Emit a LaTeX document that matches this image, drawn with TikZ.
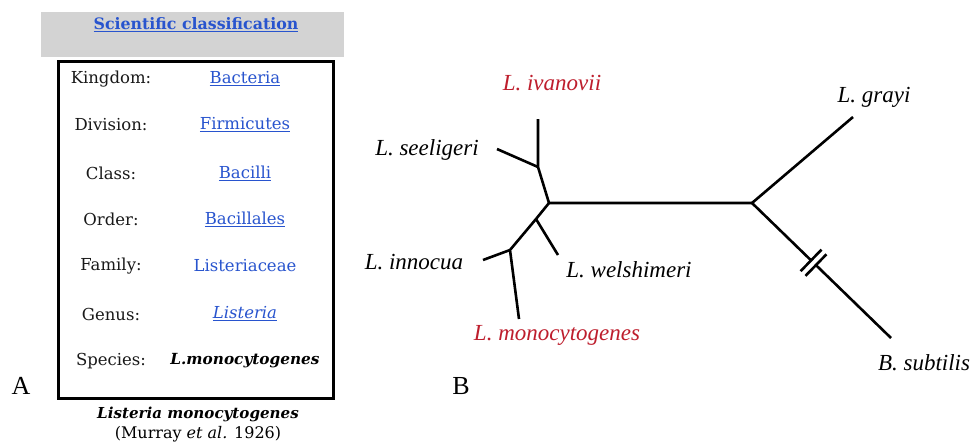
\documentclass[tikz,border=0pt]{standalone}
\usepackage{fontspec}
\setmainfont{Liberation Serif}
\newfontfamily\tabfont{DejaVu Serif}
\usetikzlibrary{calc}
\definecolor{linkblue}{RGB}{40,84,206}
\definecolor{taxred}{RGB}{190,30,45}
\definecolor{headgray}{RGB}{211,211,211}
\tikzset{
  rowlabel/.style={font=\tabfont\fontsize{16.5}{19}\selectfont, text=black!90, inner sep=0pt},
  rowvalue/.style={font=\tabfont\fontsize{16.5}{19}\selectfont, text=linkblue, inner sep=0pt},
  taxon/.style={font=\fontsize{23}{27}\selectfont\itshape, inner sep=0pt},
  panel/.style={font=\fontsize{26}{30}\selectfont, inner sep=0pt},
  branch/.style={line width=2.6pt, line cap=butt, line join=miter},
}
\begin{document}
\begin{tikzpicture}[x=1pt,y=-1pt]
  \clip (0,0) rectangle (974,445);
  \fill[white] (0,0) rectangle (974,445);

  % ---- Panel A: classification table ----
  \fill[headgray] (41,12) rectangle (344,57);
  \node[font=\tabfont\bfseries\fontsize{15.8}{18}\selectfont, text=linkblue, inner sep=0pt]
    (head) at (196,25) {\underline{Scientific classification}};
  \draw[line width=3pt] (58,61) rectangle (333,398);

  \node[rowlabel] (kl) at (111,79)  {Kingdom:};
  \node[rowlabel] (dl) at (111,125) {Division:};
  \node[rowlabel] (cl) at (111,173) {Class:};
  \node[rowlabel] (ol) at (111,219) {Order:};
  \node[rowlabel] (fl) at (111,266) {Family:};
  \node[rowlabel] (gl) at (111,314) {Genus:};
  \node[rowlabel] (sl) at (111,361) {Species:};

  \node[rowvalue] (kv) at (245,79)  {\underline{Bacteria}};
  \node[rowvalue] (dv) at (245,125) {\underline{Firmicutes}};
  \node[rowvalue] (cv) at (245,173) {\underline{Bacilli}};
  \node[rowvalue] (ov) at (245,219) {\underline{Bacillales}};
  \node[rowvalue] (fv) at (245,266) {Listeriaceae};
  \node[rowvalue] (gv) at (245,314) {\underline{\itshape Listeria}};
  \node[rowvalue, text=black, font=\tabfont\fontsize{15.3}{18}\selectfont] (sv) at (245,361) {\bfseries\itshape L.monocytogenes};

  \node[font=\tabfont\bfseries\itshape\fontsize{15.1}{18}\selectfont, inner sep=0pt]
    (cap1) at (198,414) {Listeria monocytogenes};
  \node[font=\tabfont\fontsize{16}{19}\selectfont, inner sep=0pt]
    (cap2) at (198,434) {(Murray \textit{et al.} 1926)};

  \node[panel] (pa) at (21,386) {A};

  % ---- Panel B: unrooted tree ----
  \coordinate (iv) at (538,119);
  \coordinate (n1) at (538,167);
  \coordinate (se) at (497,149);
  \coordinate (n2) at (549,203);
  \coordinate (n3) at (536,219);
  \coordinate (we) at (558,255);
  \coordinate (n4) at (510,250);
  \coordinate (in) at (483,260);
  \coordinate (mo) at (519,319);
  \coordinate (n5) at (752,203);
  \coordinate (gr) at (853,117);
  \coordinate (bs) at (891,338);

  \draw[branch] (iv) -- (n1) -- (n2) -- (n5);
  \draw[branch] (se) -- (n1);
  \draw[branch] (n2) -- (n3) -- (n4) -- (mo);
  \draw[branch] (n3) -- (we);
  \draw[branch] (in) -- (n4);
  \draw[branch] (n5) -- (gr);

  % broken branch to the outgroup
  \coordinate (b1) at ($(n5)!0.425!(bs)$);
  \coordinate (b2) at ($(n5)!0.46!(bs)$);
  \draw[branch] (n5) -- (b1);
  \draw[branch] (b2) -- (bs);
  \draw[branch] ($(b1)!15pt!90:(bs)$) -- ($(b1)!15pt!-90:(bs)$);
  \draw[branch] ($(b2)!15pt!90:(bs)$) -- ($(b2)!15pt!-90:(bs)$);

  \node[taxon, text=taxred] (tiv) at (552,83)  {L. ivanovii};
  \node[taxon] (tse) at (427,150) {L. seeligeri};
  \node[taxon] (tin) at (414,262) {L. innocua};
  \node[taxon] (twe) at (629,270) {L. welshimeri};
  \node[taxon, text=taxred] (tmo) at (557,335) {L. monocytogenes};
  \node[taxon] (tgr) at (874,97)  {L. grayi};
  \node[taxon] (tbs) at (924,363) {B. subtilis};

  \node[panel] (pb) at (461,386) {B};
\end{tikzpicture}
\end{document}
